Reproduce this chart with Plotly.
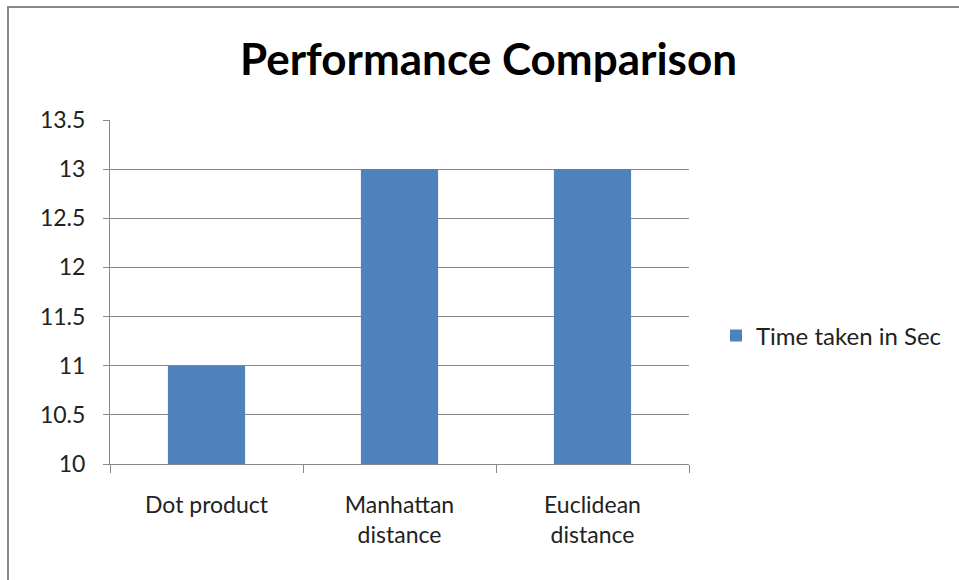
import plotly.graph_objects as go

categories = ["Dot product", "Manhattan<br>distance", "Euclidean<br>distance"]
values = [11, 13, 13]
series_name = "Time taken in Sec"
y_ticks = [10, 10.5, 11, 11.5, 12, 12.5, 13, 13.5]
y_tick_labels = ["10", "10.5", "11", "11.5", "12", "12.5", "13", "13.5"]

W, H = 959, 580
L, R, T, B = 110, 689, 120, 464
pw, ph = R - L, B - T

def px(x):
    return (x - L) / pw

def py(y):
    return (B - y) / ph

font = "Lato, 'Open Sans', sans-serif"

fig = go.Figure()
fig.add_trace(go.Bar(
    x=categories, y=values, name=series_name,
    marker=dict(color="#4F81BD", line=dict(width=0)),
    width=0.4,
))

fig.update_layout(
    width=W, height=H,
    margin=dict(l=L, r=W - R, t=T, b=H - B, pad=0),
    paper_bgcolor="white", plot_bgcolor="white",
    title=dict(text="<b>Performance Comparison</b>", x=488.5 / W, xref="container",
               xanchor="center", y=1 - 60 / H, yref="container", yanchor="middle",
               font=dict(family=font, size=44, color="black")),
    font=dict(family=font, size=23, color="#222"),
    showlegend=True,
    legend=dict(x=px(716), y=py(336), xanchor="left", yanchor="middle",
                font=dict(family=font, size=24, color="#222"),
                bgcolor="rgba(0,0,0,0)", itemwidth=30),
    xaxis=dict(type="category", tickson="boundaries", ticks="outside",
               ticklen=8, tickcolor="#888", showline=True, linecolor="#888",
               linewidth=1, showgrid=False, tickfont=dict(size=23, color="#222"),
               ticklabelstandoff=20, range=[-0.5, 2.5]),
    yaxis=dict(range=[10, 13.5], tickvals=y_ticks, ticktext=y_tick_labels,
               ticks="outside", ticklen=6, tickcolor="#888", showline=True,
               linecolor="#888", linewidth=1, showgrid=True, gridcolor="#888",
               gridwidth=1, zeroline=False, tickfont=dict(size=23, color="#222"),
               ticklabelstandoff=13),
    bargap=0.6,
    shapes=[
        dict(type="line", xref="paper", yref="paper", x0=px(7), x1=px(959),
             y0=py(7), y1=py(7), line=dict(color="#888", width=2)),
        dict(type="line", xref="paper", yref="paper", x0=px(8), x1=px(8),
             y0=py(6), y1=py(580), line=dict(color="#888", width=2)),
    ],
)

fig.write_html("out.html", config={"displayModeBar": False},
               post_script="document.body.style.margin='0';")
